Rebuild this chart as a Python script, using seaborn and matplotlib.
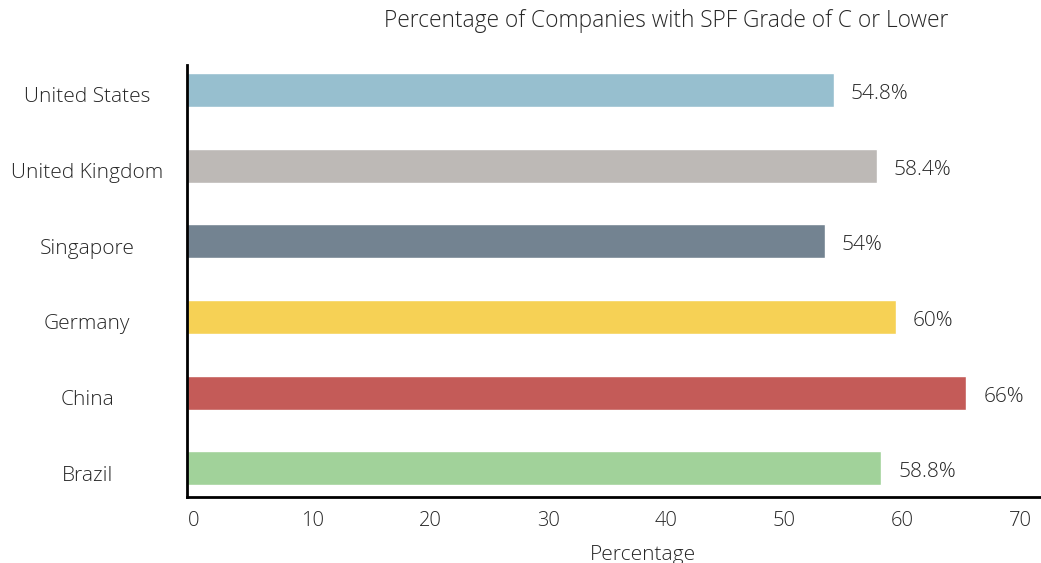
import matplotlib
matplotlib.use("Agg")
import matplotlib.pyplot as plt
import matplotlib.transforms as mtransforms
import seaborn as sns
import pandas as pd

countries = ["United States", "United Kingdom", "Singapore", "Germany", "China", "Brazil"]
values = [54.8, 58.4, 54, 60, 66, 58.8]
value_labels = ["54.8%", "58.4%", "54%", "60%", "66%", "58.8%"]
colors = ["#97BFCF", "#BDB9B6", "#738391", "#F6D155", "#C45B58", "#A1D29A"]
xticks = [0, 10, 20, 30, 40, 50, 60, 70]

sns.set_theme(style="white")
plt.rcParams["font.family"] = ["Open Sans", "DejaVu Sans"]
plt.rcParams["font.weight"] = "light"

TXT = "#262626"

df = pd.DataFrame({"country": countries, "value": values})

fig = plt.figure(figsize=(10.41, 5.63), dpi=100)
ax = fig.add_axes([187 / 1041, 1 - 497 / 563, 1 - 187 / 1041, (497 - 65) / 563])

sns.barplot(data=df, y="country", x="value", hue="country", palette=colors,
            order=countries, hue_order=countries, orient="h", width=0.45,
            legend=False, ax=ax, saturation=1)

ax.set_xlim(0, (1041 - 187) / 11.81)
ax.set_ylim(5.38, -0.33)
ax.set_xticks(xticks)
ax.set_xticklabels([str(t) for t in xticks])
ax.set_xlabel("")
ax.set_ylabel("")

for s in ["top", "right"]:
    ax.spines[s].set_visible(False)
for s in ["left", "bottom"]:
    ax.spines[s].set_color("black")
    ax.spines[s].set_linewidth(2)

ax.tick_params(axis="x", length=0, pad=10, labelsize=14.5, labelcolor=TXT)
ax.tick_params(axis="y", length=0, pad=72, labelsize=15, labelcolor=TXT)
for lbl in ax.get_yticklabels():
    lbl.set_ha("center")
    lbl.set_transform(lbl.get_transform() + mtransforms.ScaledTranslation(0, -5 / 100, fig.dpi_scale_trans))
for lbl in ax.get_xticklabels():
    lbl.set_transform(lbl.get_transform() + mtransforms.ScaledTranslation(7 / 100, 0, fig.dpi_scale_trans))

for i, (v, t) in enumerate(zip(values, value_labels)):
    ax.annotate(t, xy=(v, i), xytext=(12, -3), textcoords="offset points",
                ha="left", va="center", fontsize=15, color=TXT)

fig.text(666 / 1041, 1 - 21 / 563, "Percentage of Companies with SPF Grade of C or Lower",
         ha="center", va="center", fontsize=16.4, color=TXT)
fig.text(643 / 1041, 1 - 555 / 563, "Percentage", ha="center", va="center",
         fontsize=15, color=TXT)

fig.savefig("out.png", dpi=100)
